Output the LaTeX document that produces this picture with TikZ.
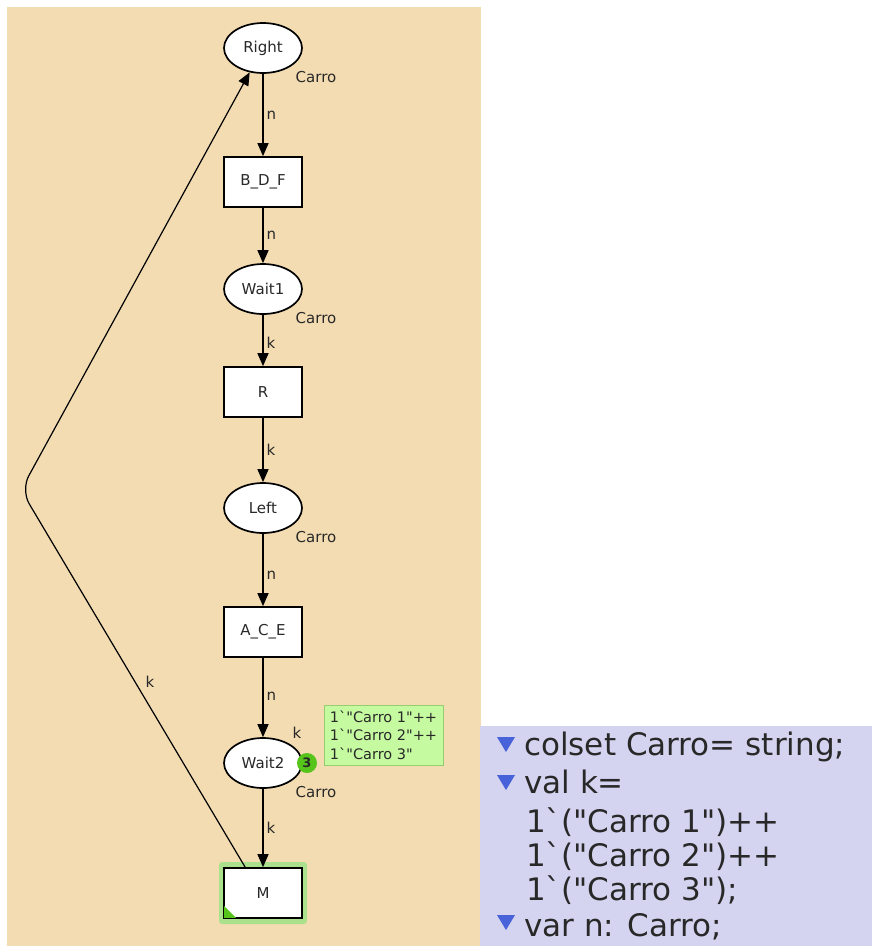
\documentclass[tikz,border=0pt]{standalone}
\usepackage{fontspec}
\setmainfont{DejaVu Sans}[Ligatures=TeXOff]
\usetikzlibrary{arrows.meta,shapes.geometric}
\definecolor{pagetan}{RGB}{243,220,178}
\definecolor{decllav}{RGB}{212,212,240}
\definecolor{declblue}{RGB}{72,98,218}
\definecolor{tokgreen}{RGB}{198,250,160}
\definecolor{tokedge}{RGB}{150,205,110}
\definecolor{dotgreen}{RGB}{86,196,26}
\definecolor{inkgray}{RGB}{40,40,40}
\tikzset{
  place/.style={ellipse, draw=black, line width=1.7pt, fill=white,
    minimum width=78pt, minimum height=50pt, inner sep=0pt,
    font=\fontsize{15}{15}\selectfont, text=inkgray},
  trans/.style={rectangle, draw=black, line width=1.7pt, fill=white,
    minimum width=78pt, minimum height=50pt, inner sep=0pt,
    font=\fontsize{15}{15}\selectfont, text=inkgray},
  colsetlab/.style={font=\fontsize{15}{15}\selectfont, text=inkgray, inner sep=0pt},
  arclab/.style={font=\fontsize{15}{15}\selectfont, text=inkgray, inner sep=0pt},
  arc/.style={draw=black, line width=1.4pt, -{Triangle[length=13pt,width=11pt]}},
  decl/.style={font=\fontsize{31}{31}\selectfont, text=inkgray, anchor=base west, inner sep=0pt},
  tri/.style={fill=declblue, draw=none},
}
\begin{document}
\begin{tikzpicture}[x=1pt,y=-1pt]
  % canvas
  \useasboundingbox (0,0) rectangle (872,946);
  \fill[white] (0,0) rectangle (872,946);
  \fill[pagetan] (7,7) rectangle (481,946);

  % declarations panel
  \fill[decllav] (480,726) rectangle (872,946);
  \foreach \yy in {737,775,915} {
    \fill[tri] (497,\yy) -- (515,\yy) -- (506,\yy+15) -- cycle;
  }
  \node[decl] (d1) at (524,755) {colset Carro= string;};
  \node[decl] (d2) at (524,793) {val k=};
  \node[decl] (d3) at (526,832) {1`("Carro 1")++};
  \node[decl] (d4) at (526,866) {1`("Carro 2")++};
  \node[decl] (d5) at (526,900) {1`("Carro 3");};
  \node[decl] (d6) at (524,936) {var n: Carro;};

  % places and transitions
  \node[place] (Right) at (263,48)  {Right};
  \node[trans] (BDF)   at (263,182) {B\_D\_F};
  \node[place] (Wait1) at (263,289) {Wait1};
  \node[trans] (R)     at (263,392) {R};
  \node[place] (Left)  at (263,508) {Left};
  \node[trans] (ACE)   at (263,632) {A\_C\_E};
  \node[place] (Wait2) at (263,763) {Wait2};
  % transition M with its enabled highlight
  \fill[dotgreen!50, rounded corners=3pt] (219,862) rectangle (307,924);
  \node[trans] (M)     at (263,893) {M};
  \fill[dotgreen] (M.south west) ++(0.9pt,0.9pt) -- ++(12pt,0) -- ++(-12pt,12pt) -- cycle;

  % colour sets
  \node[colsetlab] (c1) at (316,77)  {Carro};
  \node[colsetlab] (c2) at (316,318) {Carro};
  \node[colsetlab] (c3) at (316,537) {Carro};
  \node[colsetlab] (c4) at (316,792) {Carro};

  % initial marking of Wait2
  \node[arclab] (im) at (297,733) {k};
  \node[circle, fill=dotgreen, inner sep=0pt, minimum size=20pt,
        font=\fontsize{13}{13}\selectfont\bfseries, text=inkgray] (cnt) at (307,763) {3};
  \node[fill=tokgreen, draw=tokedge, line width=0.8pt, minimum width=119pt,
        minimum height=60pt, inner sep=2pt, align=left,
        font=\fontsize{14.5}{18.5}\selectfont, text=inkgray] (tok) at (383.5,735)
        {1`"Carro 1"++\\1`"Carro 2"++\\1`"Carro 3"};

  % arcs along the cycle
  \draw[arc] (Right) -- node[arclab, anchor=west, xshift=3pt] (a1) {n} (BDF);
  \draw[arc] (BDF)   -- node[arclab, anchor=west, xshift=3pt] (a2) {n} (Wait1);
  \draw[arc] (Wait1) -- node[arclab, anchor=west, xshift=3pt, pos=0.55] (a3) {k} (R);
  \draw[arc] (R)     -- node[arclab, anchor=west, xshift=3pt] (a4) {k} (Left);
  \draw[arc] (Left)  -- node[arclab, anchor=west, xshift=3pt, pos=0.58] (a5) {n} (ACE);
  \draw[arc] (ACE)   -- node[arclab, anchor=west, xshift=3pt, pos=0.48] (a6) {n} (Wait2);
  \draw[arc] (Wait2) -- node[arclab, anchor=west, xshift=3pt] (a7) {k} (M);

  % return arc from M back to Right
  \coordinate (bend) at (21,490);
  \draw[arc, line width=1.2pt, rounded corners=16pt] ([xshift=22pt]M.north west) -- (bend) -- (Right);
  \node[arclab] (a8) at (150,682) {k};
\end{tikzpicture}
\end{document}
